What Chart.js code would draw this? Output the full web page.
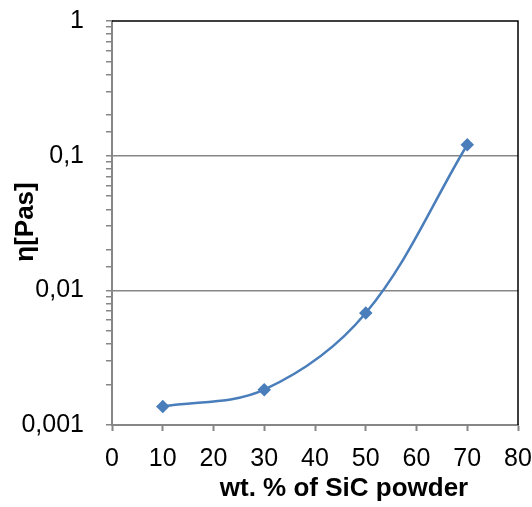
<!DOCTYPE html>
<html>
<head>
<meta charset="utf-8">
<script src="https://cdn.jsdelivr.net/npm/chart.js@4"></script>
<style>
	html, body { margin: 0; padding: 0; background: #fff; }
	#wrap { width: 532px; height: 507px; }
</style>
</head>
<body>
<div id="wrap"><canvas id="chart" width="532" height="507"></canvas></div>
<script>
(function () {
	'use strict';

	// wt. % of SiC powder
	const sicContent = [10, 30, 50, 70];
	// viscosity eta [Pas]
	const viscosity = [0.00137, 0.00183, 0.00678, 0.1205];
	const xTicks = [0, 10, 20, 30, 40, 50, 60, 70, 80];
	const yTickValues = [0.001, 0.01, 0.1, 1];
	const yTickLabels = ['0,001', '0,01', '0,1', '1'];

	const axisGrey = '#868686';
	const lineBlue = '#4A7EBB';
	const font = "'Liberation Sans', Arial, sans-serif";

	function majorIndex(value) {
		for (let i = 0; i < yTickValues.length; i++) {
			if (Math.abs(Math.log10(value) - Math.log10(yTickValues[i])) < 1e-6) {
				return i;
			}
		}
		return -1;
	}

	// outer frame (top + right) and axis titles
	const framePlugin = {
		id: 'frame',
		afterDraw: function(chart) {
			const ctx = chart.ctx;
			const a = chart.chartArea;
			ctx.save();
			ctx.strokeStyle = '#000';
			ctx.lineWidth = 1.5;
			ctx.beginPath();
			ctx.moveTo(a.left, a.top);
			ctx.lineTo(a.right, a.top);
			ctx.lineTo(a.right, a.bottom);
			ctx.stroke();

			ctx.fillStyle = '#000';
			ctx.font = 'bold 26px ' + font;
			ctx.textAlign = 'center';
			ctx.textBaseline = 'middle';
			ctx.fillText('wt. % of SiC powder', 344, 489);

			ctx.translate(26, 222);
			ctx.rotate(-Math.PI / 2);
			ctx.fillText('η[Pas]', 0, 0);
			ctx.restore();
		}
	};

	new Chart(document.getElementById('chart'), {
		type: 'line',
		data: {
			datasets: [{
				data: sicContent.map(function(x, i) {
					return { x: x, y: viscosity[i] };
				}),
				borderColor: lineBlue,
				backgroundColor: lineBlue,
				borderWidth: 2.5,
				pointStyle: 'rectRot',
				pointRadius: 5,
				pointHoverRadius: 5,
				tension: 0.35,
				fill: false
			}]
		},
		options: {
			responsive: false,
			animation: false,
			layout: {
				padding: { top: 21, right: 14, left: 0, bottom: 0 }
			},
			plugins: {
				legend: { display: false },
				tooltip: { enabled: false }
			},
			scales: {
				x: {
					type: 'linear',
					min: 0,
					max: 80,
					afterBuildTicks: function(scale) {
						scale.ticks = xTicks.map(function(v) { return { value: v }; });
					},
					afterFit: function(scale) {
						scale.height = 82;
						scale.paddingLeft = 0;
						scale.paddingRight = 0;
					},
					border: { color: axisGrey, width: 2 },
					grid: {
						drawOnChartArea: false,
						drawTicks: true,
						tickLength: 6,
						tickColor: axisGrey,
						tickWidth: 2
					},
					ticks: {
						color: '#000',
						padding: 13,
						maxRotation: 0,
						font: { family: font, size: 25 }
					}
				},
				y: {
					type: 'logarithmic',
					min: 0.001,
					max: 1,
					afterFit: function(scale) {
						scale.width = 112;
						scale.paddingTop = 0;
						scale.paddingBottom = 0;
					},
					border: { color: axisGrey, width: 2 },
					grid: {
						color: function(ctx) {
							if (!ctx.tick) {
								return 'rgba(0,0,0,0)';
							}
							const i = majorIndex(ctx.tick.value);
							return (i > 0 && i < yTickValues.length - 1) ? axisGrey : 'rgba(0,0,0,0)';
						},
						lineWidth: 1.5,
						tickLength: 6,
						tickColor: axisGrey,
						tickWidth: 1.5
					},
					ticks: {
						autoSkip: false,
						color: '#000',
						padding: 22,
						font: { family: font, size: 25 },
						callback: function(value) {
							const i = majorIndex(value);
							return i >= 0 ? yTickLabels[i] : '';
						}
					}
				}
			}
		},
		plugins: [framePlugin]
	});
})();
</script>
</body>
</html>
